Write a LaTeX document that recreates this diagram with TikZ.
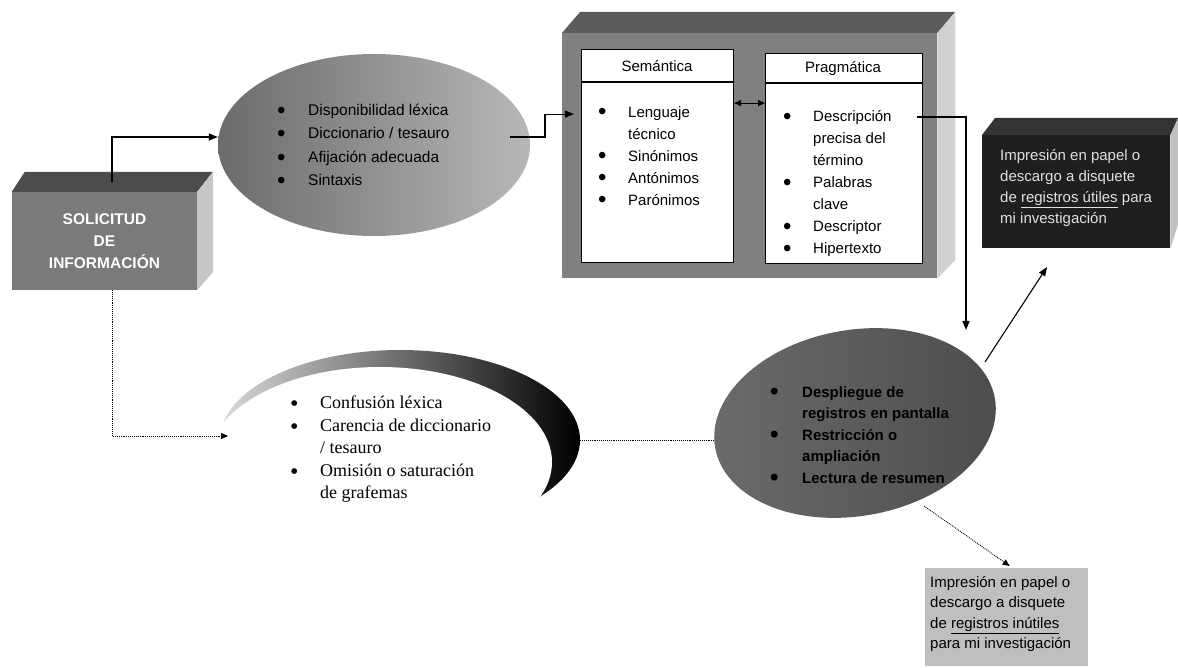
\documentclass[tikz,border=0pt]{standalone}
\usepackage{fontspec}
\setmainfont{Liberation Sans}
\newfontfamily\seriffont{Liberation Serif}
\usetikzlibrary{shapes.geometric,arrows.meta}
\newcommand\mybul[1]{\makebox[#1][l]{\raisebox{-0.35ex}{\fontsize{24}{24}\selectfont\textbullet}}}
\begin{document}
\begin{tikzpicture}[x=1pt,y=-1pt,
  arr/.style={-{Triangle[length=9pt,width=7pt]}, line width=1.1pt},
  dotarr/.style={densely dotted, line width=0.9pt, -{Triangle[length=7pt,width=6pt]}},
  list/.style={anchor=north west, inner sep=0pt, align=left},
  panel/.style={draw, line width=1.2pt, fill=white, inner sep=0pt, anchor=north west},
  boxfront/.style={inner sep=0pt, anchor=north west}]
\useasboundingbox (0,0) rectangle (1178,668);

% ---------- SOLICITUD box ----------
\node[fill=black!52, minimum width=185, minimum height=98, inner sep=0pt,
      text=white, font=\bfseries\fontsize{15.5}{22}\selectfont, align=center] (sol) at (104.5,241) {SOLICITUD\\DE\\INFORMACIÓN};
\fill[black!70] (sol.north west) -- ++(13,-20) -- ++(188,0) -- (sol.north east) -- cycle;
\fill[black!22] (sol.north east) -- ++(16,-20) -- ++(0,100) -- (sol.south east) -- cycle;

% ---------- top ellipse ----------
\node[ellipse, minimum width=312, minimum height=182, inner sep=0pt,
      left color=black!58, right color=black!28] (e1) at (374,145) {};
\node[list, font=\fontsize{15.5}{23.3}\selectfont] (e1t) at (277,104)
  {\mybul{31pt}Disponibilidad léxica\\\mybul{31pt}Diccionario / tesauro\\\mybul{31pt}Afijación adecuada\\\mybul{31pt}Sintaxis};

% ---------- big box ----------
\node[boxfront, fill=black!50, minimum width=375, minimum height=245] (big) at (562,33) {};
\fill[black!64] (big.north west) -- ++(18,-21) -- ++(375,0) -- (big.north east) -- cycle;
\fill[black!18] (big.north east) -- ++(18,-21) -- ++(0,248) -- (big.south east) -- cycle;

\node[panel, minimum width=152, minimum height=213] (sem) at (581,49) {};
\draw[line width=1.1pt] ([yshift=-33pt]sem.north west) -- ([yshift=-33pt]sem.north east);
\node[font=\fontsize{15}{18}\selectfont] (semh) at (657,66) {Semántica};
\node[list, font=\fontsize{15}{22}\selectfont] (semt) at (598,106)
  {\mybul{30pt}Lenguaje\\\hspace*{30pt}técnico\\\mybul{30pt}Sinónimos\\\mybul{30pt}Antónimos\\\mybul{30pt}Parónimos};

\node[panel, minimum width=157, minimum height=210] (prag) at (765,53) {};
\draw[line width=1.1pt] ([yshift=-30pt]prag.north west) -- ([yshift=-30pt]prag.north east);
\node[font=\fontsize{15}{18}\selectfont] (pragh) at (843,69) {Pragmática};
\node[list, font=\fontsize{15}{22}\selectfont] (pragt) at (783,110)
  {\mybul{30pt}Descripción\\\hspace*{30pt}precisa del\\\hspace*{30pt}término\\\mybul{30pt}Palabras\\\hspace*{30pt}clave\\\mybul{30pt}Descriptor\\\mybul{30pt}Hipertexto};

% ---------- dark box ----------
\node[boxfront, fill=black!88, minimum width=188, minimum height=113] (dk) at (982,135) {};
\fill[black!80] (dk.north west) -- ++(13,-17) -- ++(183,0) -- (dk.north east) -- cycle;
\fill[black!25] (dk.north east) -- ++(8,-17) -- ++(0,105) -- (dk.south east) -- cycle;
\node[list, text=black!12, font=\fontsize{15}{21}\selectfont] (dkt) at (1000,149)
  {Impresión en papel o\\descargo a disquete\\de \underline{registros útiles} para\\mi investigación};

% ---------- crescent ----------
\node[ellipse, minimum width=360, minimum height=180, inner sep=0pt,
      left color=black!15, right color=black] (cres) at (400,440) {};
\fill[white] (380,462) ellipse [x radius=172, y radius=95];
\node[list, font=\seriffont\fontsize{18}{22.5}\selectfont] (ct) at (290,396)
  {\mybul{30pt}Confusión léxica\\\mybul{30pt}Carencia de diccionario\\\hspace*{30pt}/ tesauro\\\mybul{30pt}Omisión o saturación\\\hspace*{30pt}de grafemas};

% ---------- bottom ellipse ----------
\node[ellipse, rotate=10, minimum width=284, minimum height=186, inner sep=0pt,
      left color=black!58, right color=black!70] (e2) at (855,423) {};
\node[list, font=\bfseries\fontsize{15}{21.5}\selectfont] (e2t) at (770,386)
  {\mybul{32pt}Despliegue de\\\hspace*{32pt}registros en pantalla\\\mybul{32pt}Restricción o\\\hspace*{32pt}ampliación\\\mybul{32pt}Lectura de resumen};

% ---------- bottom-right box ----------
\node[boxfront, fill=black!25, minimum width=163, minimum height=98] (bb) at (925,568) {};
\node[list, font=\fontsize{15}{20.5}\selectfont] (bbt) at (930,576)
  {Impresión en papel o\\descargo a disquete\\de \underline{registros inútiles}\\para mi investigación};

% ---------- connectors ----------
\coordinate (s1) at (112,182);
\draw[arr] (s1) |- ([yshift=8pt]e1.west);
\coordinate (e1o) at (510,137);
\draw[arr] (e1o) -- ++(35,0) |- ([xshift=-7pt,yshift=42pt]sem.west);
\draw[{Triangle[length=7pt,width=6pt]}-{Triangle[length=7pt,width=6pt]}, line width=1.1pt]
  ([yshift=53pt]sem.east) -- ([yshift=53pt]sem.east -| prag.west);
\coordinate (p1) at (917,117);
\coordinate (e2top) at (966,330);
\draw[arr] (p1) -- (p1 -| e2top) -- (e2top);
\coordinate (e2r) at (985,362);
\coordinate (dkend) at (1047,267);
\draw[arr] (e2r) -- (dkend);
\coordinate (cin) at (228,436);
\draw[dotarr] ([xshift=8pt]sol.south) |- (cin);
\draw[densely dotted, line width=0.9pt] (cres.east) -- (cres.east -| e2.west);
\coordinate (e2b) at (924,506);
\draw[dotarr] (e2b) -- ([xshift=3pt,yshift=2pt]bb.north);
\end{tikzpicture}
\end{document}
